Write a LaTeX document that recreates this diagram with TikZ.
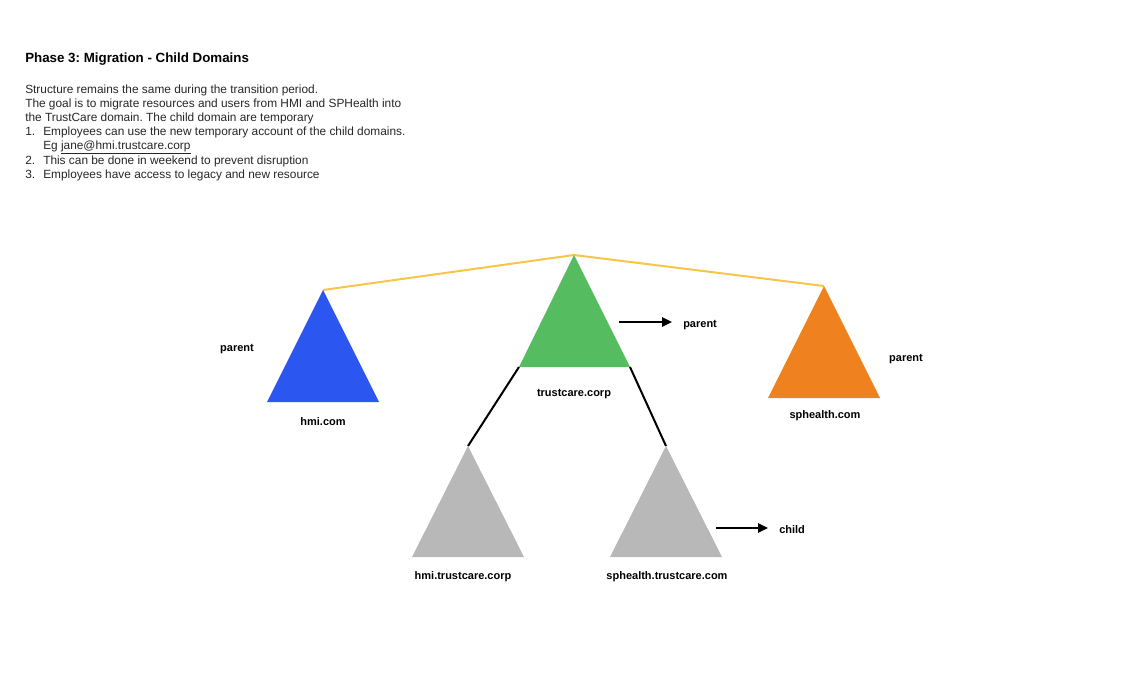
\documentclass[tikz,border=0pt]{standalone}
\usepackage{fontspec}
\setmainfont{Liberation Sans}
\usetikzlibrary{arrows.meta,positioning}
\definecolor{hmiblue}{HTML}{2B57F0}
\definecolor{tcgreen}{HTML}{55BD5F}
\definecolor{sporange}{HTML}{EF821E}
\definecolor{childgray}{HTML}{B8B8B8}
\definecolor{trust}{HTML}{F7C548}
\frenchspacing

\begin{document}
\begin{tikzpicture}[x=0.75pt,y=-0.75pt,
  body/.style={anchor=base west,inner sep=0pt,font=\fontsize{8.9}{10.6}\selectfont,text=black!85},
  lbl/.style={inner sep=0pt,font=\fontsize{8.25}{10}\selectfont\bfseries},
  link/.style={line width=1.5pt},
  pointer/.style={line width=1.5pt,-{Triangle[length=7.5pt,width=7pt]},shorten >=8.25pt}]
  \useasboundingbox (0,0) rectangle (1132,689);

  % Heading and notes
  \node[body,font=\fontsize{10}{12}\selectfont\bfseries,text=black] (title) at (25,62) {Phase 3: Migration - Child Domains};
  \node[body] (note1) at (25,93) {Structure remains the same during the transition period.};
  \node[body] (note2) at (25,107) {The goal is to migrate resources and users from HMI and SPHealth into};
  \node[body] (note3) at (25,121) {the TrustCare domain. The child domain are temporary};
  \node[body] (item1) at (25,135) {\makebox[13.5pt][l]{1.}Employees can use the new temporary account of the child domains.};
  \node[body] (item1b) at (25,149) {\hspace*{13.5pt}Eg \underline{jane@hmi.trustcare.corp}};
  \node[body] (item2) at (25,164) {\makebox[13.5pt][l]{2.}This can be done in weekend to prevent disruption};
  \node[body] (item3) at (25,178) {\makebox[13.5pt][l]{3.}Employees have access to legacy and new resource};

  % Domain corners
  \coordinate (hmiTop) at (323,290);  \coordinate (hmiL) at (267,402);  \coordinate (hmiR) at (379,402);
  \coordinate (tcTop) at (574,255);   \coordinate (tcL) at (519,367);   \coordinate (tcR) at (630,367);
  \coordinate (spTop) at (824,286);   \coordinate (spL) at (768,398);   \coordinate (spR) at (880,398);
  \coordinate (hmitcTop) at (468,446); \coordinate (hmitcL) at (412,557); \coordinate (hmitcR) at (524,557);
  \coordinate (sptcTop) at (666,446);  \coordinate (sptcL) at (610,557);  \coordinate (sptcR) at (722,557);

  % Trust between the forest roots
  \draw[trust,link] (hmiTop) -- (tcTop) -- (spTop);

  % Parent to child links
  \draw[link] (tcL) -- (hmitcTop);
  \draw[link] (tcR) -- (sptcTop);

  % Domains
  \fill[hmiblue] (hmiTop) -- (hmiR) -- (hmiL) -- cycle;
  \fill[tcgreen] (tcTop) -- (tcR) -- (tcL) -- cycle;
  \fill[sporange] (spTop) -- (spR) -- (spL) -- cycle;
  \fill[childgray] (hmitcTop) -- (hmitcR) -- (hmitcL) -- cycle;
  \fill[childgray] (sptcTop) -- (sptcR) -- (sptcL) -- cycle;

  \node[lbl] (hmiName) at (323,422) {hmi.com};
  \node[lbl] (tcName) at (574,394) {trustcare.corp};
  \node[lbl] (spName) at (825,416) {sphealth.com};
  \node[lbl] (hmitcName) at (463,577) {hmi.trustcare.corp};
  \node[lbl] (sptcName) at (667,577) {sphealth.trustcare.com};

  % Roles
  \node[lbl] (hmiRole) at (237,349) {parent};
  \node[lbl] (spRole) at (906,359) {parent};
  \node[lbl,anchor=west] (tcRole) at (683,325) {parent};
  \node[lbl,anchor=west] (sptcRole) at (779,530) {child};
  \coordinate (tcArrow) at (619,322);
  \coordinate (sptcArrow) at (716,528);
  \draw[pointer] (tcArrow) -- (tcArrow -| tcRole.west);
  \draw[pointer] (sptcArrow) -- (sptcArrow -| sptcRole.west);
\end{tikzpicture}
\end{document}
